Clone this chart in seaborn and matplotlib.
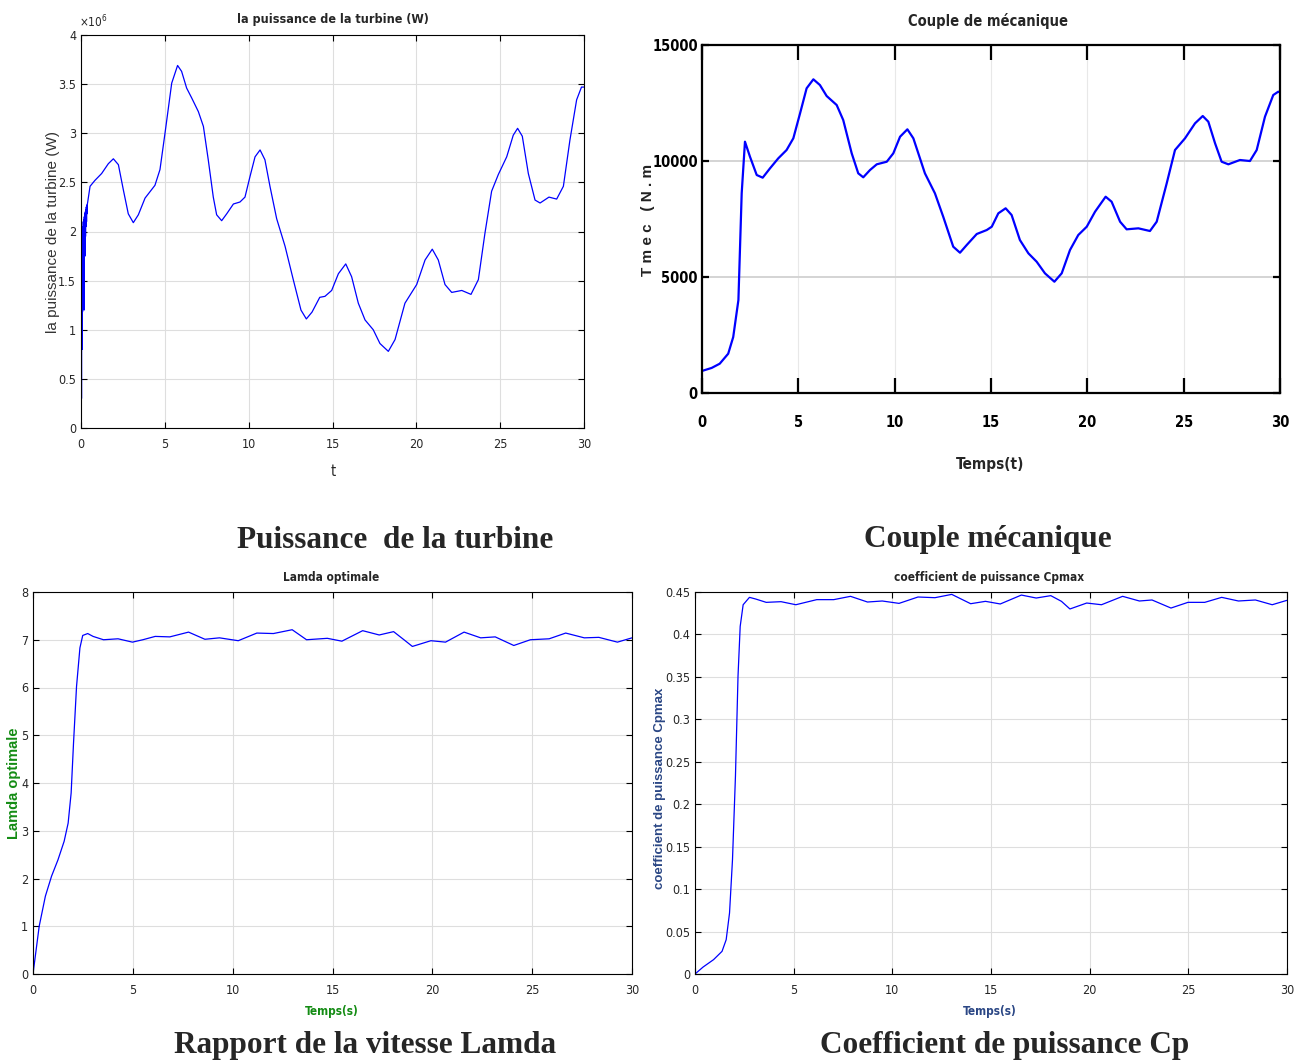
import numpy as np
import pandas as pd
import matplotlib
matplotlib.use("Agg")
import matplotlib.pyplot as plt
import seaborn as sns

# ---------------- data ----------------
# Panel 1: turbine power (x1e6 W)
p_t = [0, 0.015, 0.03, 0.045, 0.06, 0.075, 0.09, 0.105, 0.12, 0.135, 0.15, 0.165, 0.18, 0.195,
       0.21, 0.225, 0.24, 0.255, 0.27, 0.285, 0.30, 0.315, 0.33, 0.345, 0.36, 0.38, 0.40,
       0.54, 0.83, 1.23, 1.63, 1.93, 2.23, 2.53, 2.82, 3.12, 3.42, 3.82, 4.41, 4.71, 5.01, 5.41,
       5.76, 6.00, 6.30, 6.60, 7.00, 7.30, 7.59, 7.89, 8.09, 8.39, 8.69, 9.09, 9.48, 9.78, 10.08,
       10.38, 10.68, 10.97, 11.27, 11.67, 12.17, 12.66, 13.12, 13.44, 13.78, 14.24, 14.55, 14.95,
       15.35, 15.79, 16.14, 16.54, 16.94, 17.43, 17.83, 18.33, 18.73, 19.32, 20.02, 20.52, 20.95,
       21.31, 21.71, 22.11, 22.71, 23.26, 23.70, 24.09, 24.49, 24.89, 25.39, 25.78, 26.04, 26.32,
       26.68, 27.08, 27.38, 27.91, 28.37, 28.77, 29.16, 29.56, 29.85, 30.0]
p_val = [0, 1.6, 0.3, 1.95, 0.8, 2.0, 1.18, 2.05, 1.5, 2.1, 1.78, 2.12, 1.2, 2.15, 1.85, 2.18,
         1.75, 2.2, 1.95, 2.22, 2.05, 2.25, 2.1, 2.27, 2.18, 2.28, 2.3,
         2.46, 2.52, 2.59, 2.69, 2.74, 2.68, 2.42, 2.18, 2.09, 2.17, 2.34, 2.47, 2.63, 3.00, 3.51,
         3.69, 3.63, 3.46, 3.36, 3.22, 3.07, 2.73, 2.35, 2.17, 2.11, 2.18, 2.28, 2.30, 2.35, 2.56,
         2.76, 2.83, 2.73, 2.46, 2.13, 1.85, 1.51, 1.20, 1.11, 1.18, 1.33, 1.34, 1.40,
         1.57, 1.67, 1.54, 1.27, 1.10, 1.00, 0.86, 0.78, 0.90, 1.27, 1.46, 1.71, 1.82,
         1.71, 1.46, 1.38, 1.40, 1.36, 1.51, 1.98, 2.41, 2.58, 2.76, 2.98, 3.05, 2.97,
         2.59, 2.32, 2.29, 2.35, 2.33, 2.46, 2.93, 3.34, 3.47, 3.47]

# Panel 2: mechanical torque (N.m)
c_t = [0, 0.50, 0.92, 1.36, 1.62, 1.89, 2.06, 2.23, 2.49, 2.84, 3.15, 3.53, 3.96, 4.39, 4.74,
       5.09, 5.43, 5.78, 6.12, 6.47, 6.99, 7.33, 7.77, 8.11, 8.37, 8.72, 9.07, 9.59, 9.93, 10.28,
       10.66, 10.97, 11.57, 12.09, 12.52, 13.04, 13.39, 13.74, 14.26, 14.78, 15.04, 15.38, 15.76,
       16.07, 16.50, 16.94, 17.37, 17.80, 18.29, 18.67, 19.10, 19.53, 19.97, 20.40, 20.95, 21.26,
       21.70, 22.04, 22.65, 23.25, 23.60, 24.12, 24.55, 25.07, 25.59, 25.99, 26.28, 26.63, 26.97,
       27.32, 27.92, 28.44, 28.79, 29.22, 29.65, 29.91, 30.0]
c_val = [950, 1080, 1263, 1694, 2411, 4008, 8607, 10832, 10185, 9396, 9281, 9684, 10116, 10473,
         10978, 12055, 13133, 13521, 13275, 12801, 12413, 11766, 10331, 9469, 9297, 9611, 9857,
         9969, 10331, 11047, 11366, 10978, 9469, 8607, 7599, 6306, 6047, 6379, 6853, 7025, 7168,
         7745, 7961, 7672, 6594, 6021, 5659, 5159, 4797, 5159, 6163, 6810, 7168, 7814, 8461, 8245,
         7383, 7055, 7098, 6982, 7383, 9038, 10473, 10978, 11624, 11939, 11694, 10762, 9969,
         9857, 10043, 9999, 10473, 11909, 12844, 12987, 12960]

# Panel 3: optimal tip speed ratio
l_t = [0, 0.31, 0.62, 0.93, 1.25, 1.56, 1.76, 1.91, 2.03, 2.18, 2.35, 2.49, 2.74, 3.01, 3.53, 4.26,
       4.98, 5.50, 6.12, 6.85, 7.79, 8.61, 9.34, 10.28, 11.21, 12.04, 12.98, 13.70, 14.74, 15.47,
       16.51, 17.34, 18.06, 18.58, 19.00, 19.93, 20.66, 21.59, 22.42, 23.15, 24.08, 24.91, 25.85,
       26.68, 27.61, 28.34, 29.27, 30.0]
l_val = [0, 1.0, 1.63, 2.05, 2.39, 2.78, 3.16, 3.79, 4.84, 6.02, 6.83, 7.09, 7.13, 7.07, 7.00, 7.02,
         6.95, 7.00, 7.07, 7.06, 7.16, 7.01, 7.04, 6.98, 7.14, 7.13, 7.21, 7.00, 7.03, 6.97,
         7.19, 7.10, 7.17, 7.00, 6.86, 6.98, 6.95, 7.16, 7.04, 7.06, 6.88, 7.00, 7.02,
         7.14, 7.04, 7.05, 6.95, 7.04]

# Panel 4: power coefficient
cp_t = [0, 0.41, 0.94, 1.37, 1.58, 1.75, 1.90, 2.05, 2.18, 2.29, 2.44, 2.76, 3.08, 3.61, 4.36, 5.11,
        6.17, 7.03, 7.88, 8.74, 9.49, 10.34, 11.30, 12.16, 13.01, 13.97, 14.72, 15.47, 16.54, 17.29,
        18.03, 18.57, 19.00, 19.85, 20.60, 21.67, 22.52, 23.16, 24.12, 24.98, 25.83, 26.69, 27.54,
        28.40, 29.25, 30.0]
cp_val = [0, 0.0082, 0.0169, 0.0267, 0.0404, 0.0719, 0.1347, 0.233, 0.351, 0.4095, 0.435, 0.4437,
          0.4417, 0.4378, 0.4386, 0.435, 0.441, 0.441, 0.4449, 0.4382, 0.4394, 0.4366, 0.4441, 0.4433,
          0.4472, 0.4362, 0.439, 0.4359, 0.4464, 0.4429, 0.4457, 0.439, 0.430, 0.437, 0.435, 0.4449,
          0.4394, 0.4406, 0.4311, 0.4378, 0.4378, 0.4437, 0.4394, 0.4406, 0.435, 0.4402]

x_ticks = [0, 5, 10, 15, 20, 25, 30]
p_ticks = [0, 0.5, 1, 1.5, 2, 2.5, 3, 3.5, 4]
p_ticklabels = ["0", "0.5", "1", "1.5", "2", "2.5", "3", "3.5", "4"]
c_ticks = [0, 5000, 10000, 15000]
l_ticks = [0, 1, 2, 3, 4, 5, 6, 7, 8]
cp_ticks = [0, 0.05, 0.1, 0.15, 0.2, 0.25, 0.3, 0.35, 0.4, 0.45]
cp_ticklabels = ["0", "0.05", "0.1", "0.15", "0.2", "0.25", "0.3", "0.35", "0.4", "0.45"]

# ---------------- figure ----------------
sns.set_style("white")
plt.rcParams["font.family"] = ["DejaVu Sans"]
plt.rcParams["font.stretch"] = "condensed"

W, H = 1301, 1064
fig = plt.figure(figsize=(W / 100, H / 100), dpi=100)

SANS = ["Liberation Sans", "DejaVu Sans"]
SERIF = ["Liberation Serif", "DejaVu Serif"]


def box(l, t, r, b):
    return [l / W, (H - b) / H, (r - l) / W, (b - t) / H]


def ftext(x, y, s, **kw):
    fig.text(x / W, (H - y) / H, s, ha=kw.pop("ha", "center"), va=kw.pop("va", "center"), **kw)


BLUE = "#0000ff"
GRID = "#dedede"
TICKC = "#262626"


def matlab_axes(ax, lw=0.8, tlen=4, tw=0.8, fs=9, bold=False):
    ax.set_facecolor("white")
    ax.grid(True, color=GRID, lw=0.8)
    ax.set_axisbelow(True)
    for s in ax.spines.values():
        s.set_visible(True)
        s.set_color("black")
        s.set_linewidth(lw)
    ax.tick_params(direction="in", top=True, right=True, bottom=True, left=True,
                   length=tlen, width=tw, colors="black", labelcolor=TICKC, labelsize=fs)
    if bold:
        for lab in ax.get_xticklabels() + ax.get_yticklabels():
            lab.set_fontweight("bold")
    ax.set_xlabel("")
    ax.set_ylabel("")


# ---- Panel 1 ----
ax1 = fig.add_axes(box(81, 35, 584, 428))
df1 = pd.DataFrame({"t": p_t, "P": p_val})
sns.lineplot(data=df1, x="t", y="P", ax=ax1, color=BLUE, lw=0.9, sort=False)
ax1.set_xlim(0, 30)
ax1.set_ylim(0, 4)
ax1.set_xticks(x_ticks)
ax1.set_yticks(p_ticks)
ax1.set_yticklabels(p_ticklabels)
matlab_axes(ax1)
ax1.tick_params(axis="x", pad=7)
ftext(333, 19, "la puissance de la turbine (W)", fontsize=9, fontweight="bold")
ftext(93, 22, r"$\times10^{6}$", fontsize=8.5, color=TICKC)
ftext(333, 471, "t", fontsize=10.5, color=TICKC)
ftext(53, 232, "la puissance de la turbine (W)", fontsize=11, rotation=90,
      color="#333333", family=SANS, fontstretch="normal")
ftext(395, 540, "Puissance  de la turbine", fontsize=22.5, fontweight="bold",
      family=SERIF, fontstretch="normal")

# ---- Panel 2 ----
ax2 = fig.add_axes(box(702, 45, 1280, 393))
df2 = pd.DataFrame({"t": c_t, "T": c_val})
sns.lineplot(data=df2, x="t", y="T", ax=ax2, color=BLUE, lw=1.6, sort=False)
ax2.set_xlim(0, 30)
ax2.set_ylim(0, 15000)
ax2.set_xticks(x_ticks)
ax2.set_yticks(c_ticks)
matlab_axes(ax2, lw=1.6, tlen=6, tw=1.6, fs=10.5, bold=True)
ax2.tick_params(axis="x", pad=16, length=11)
ax2.tick_params(axis="y", pad=3, length=5)
ax2.grid(True, axis="y", color="#d4d4d4", lw=1.4)
ax2.grid(True, axis="x", color="#e8e8e8", lw=0.8)
for lab in ax2.get_xticklabels() + ax2.get_yticklabels():
    lab.set_color("black")
ftext(988, 21, "Couple de mécanique", fontsize=10.5, fontweight="bold")
ftext(990, 464, "Temps(t)", fontsize=11, fontweight="bold")
ftext(648, 220, "T m e c   ( N . m", fontsize=11, rotation=90, fontweight="bold",
      color="#222222", family=SANS, fontstretch="normal")
ftext(988, 540, "Couple mécanique", fontsize=22.5, fontweight="bold",
      family=SERIF, fontstretch="normal")

# ---- Panel 3 ----
ax3 = fig.add_axes(box(33, 592, 632, 974))
df3 = pd.DataFrame({"t": l_t, "L": l_val})
sns.lineplot(data=df3, x="t", y="L", ax=ax3, color=BLUE, lw=0.9, sort=False)
ax3.set_xlim(0, 30)
ax3.set_ylim(0, 8)
ax3.set_xticks(x_ticks)
ax3.set_yticks(l_ticks)
matlab_axes(ax3)
ax3.tick_params(axis="x", pad=7)
GREEN = "#148c14"
ftext(331, 578, "Lamda optimale", fontsize=8.5, fontweight="bold")
ftext(332, 1012, "Temps(s)", fontsize=8.5, fontweight="bold", color=GREEN)
ftext(14, 783, "Lamda optimale", fontsize=10.5, rotation=90, fontweight="bold",
      color=GREEN, family=SANS, fontstretch="normal")
ftext(365, 1045, "Rapport de la vitesse Lamda", fontsize=22.5, fontweight="bold",
      family=SERIF, fontstretch="normal")

# ---- Panel 4 ----
ax4 = fig.add_axes(box(695, 592, 1287, 974))
df4 = pd.DataFrame({"t": cp_t, "Cp": cp_val})
sns.lineplot(data=df4, x="t", y="Cp", ax=ax4, color=BLUE, lw=0.9, sort=False)
ax4.set_xlim(0, 30)
ax4.set_ylim(0, 0.45)
ax4.set_xticks(x_ticks)
ax4.set_yticks(cp_ticks)
ax4.set_yticklabels(cp_ticklabels)
matlab_axes(ax4)
ax4.tick_params(axis="x", pad=7)
NAVY = "#2b4785"
ftext(989, 578, "coefficient de puissance Cpmax", fontsize=8.5, fontweight="bold")
ftext(990, 1012, "Temps(s)", fontsize=8.5, fontweight="bold", color=NAVY)
ftext(660, 788, "coefficient de puissance Cpmax", fontsize=9.5, rotation=90,
      fontweight="bold", color=NAVY, family=SANS, fontstretch="normal")
ftext(1005, 1045, "Coefficient de puissance Cp", fontsize=22.5, fontweight="bold",
      family=SERIF, fontstretch="normal")

fig.savefig("out.png", dpi=100)
